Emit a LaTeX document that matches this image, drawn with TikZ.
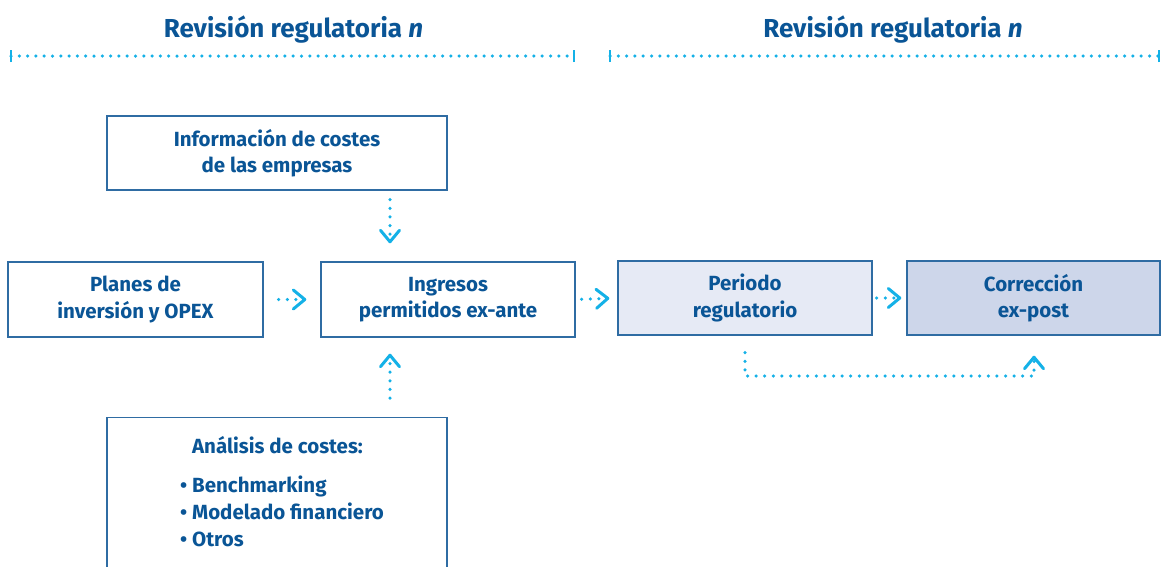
\documentclass[tikz,border=0pt]{standalone}
\usepackage{fontspec}
\setmainfont{Fira Sans}
\usetikzlibrary{arrows.meta}
\definecolor{txt}{HTML}{0A5596}
\definecolor{bord}{HTML}{2F6CA3}
\definecolor{cyanc}{HTML}{14B1E7}
\definecolor{fillA}{HTML}{E6EAF5}
\definecolor{fillB}{HTML}{CDD6EA}
\begin{document}
\begin{tikzpicture}[x=1pt,y=-1pt,
  box/.style={draw=bord, line width=1.4pt, inner sep=0pt, text=txt, align=center,
    font=\bfseries\fontsize{20.5}{26.5}\selectfont},
  lbl/.style={inner sep=0pt, text=txt, font=\bfseries\fontsize{20.5}{26.5}\selectfont},
  ttl/.style={inner sep=0pt, text=txt, font=\bfseries\fontsize{26}{30}\selectfont},
  conn/.style={draw=cyanc, line width=3.5pt, line cap=round, dash pattern=on 0pt off 8.6pt,
    -{Straight Barb[length=11.5pt,width=19pt,line width=3pt,line join=round,line cap=round]}},
  hdr/.style={draw=cyanc, line width=3.5pt, line cap=round, dash pattern=on 0pt off 8.3pt},
  tick/.style={draw=cyanc, line width=2.8pt}
]
\clip (0,0) rectangle (1161,566);
\fill[white] (0,0) rectangle (1161,566);

% headers
\node[ttl, anchor=base] (t1) at (293.5,37) {Revisión regulatoria \textit{n}};
\node[ttl, anchor=base] (t2) at (893,37) {Revisión regulatoria \textit{n}};
\coordinate (h1a) at (11,56); \coordinate (h1b) at (574,56);
\coordinate (h2a) at (610,56); \coordinate (h2b) at (1159,56);
\draw[hdr] (h1a) -- (h1b);
\draw[hdr] (h2a) -- (h2b);
\foreach \c in {h1a,h1b,h2a,h2b}{\draw[tick] ([yshift=-6pt]\c.center) -- ([yshift=6pt]\c.center);}

% boxes
\node[box, minimum width=340pt, minimum height=74pt] (info) at (277,153) {Información de costes\\de las empresas};
\node[box, minimum width=255pt, minimum height=75pt] (planes) at (135.5,299.5) {Planes de\\inversión y OPEX};
\node[box, minimum width=254pt, minimum height=75pt] (ingr) at (448,299.5) {Ingresos\\permitidos ex-ante};
\node[box, fill=fillA, minimum width=254pt, minimum height=74pt] (periodo) at (745,298) {Periodo\\regulatorio};
\node[box, fill=fillB, minimum width=253pt, minimum height=74pt] (correc) at (1033.5,298) {Corrección\\ex-post};
\node[box, minimum width=340pt, minimum height=180pt, anchor=north] (anal) at (277,417) {};
\node[lbl, anchor=base] (a0) at (277.5,453) {Análisis de costes:};
\node[lbl, anchor=base west] (a1) at (180,492) {\textbullet\ Benchmarking};
\node[lbl, anchor=base west] (a2) at (180,519) {\textbullet\ Modelado financiero};
\node[lbl, anchor=base west] (a3) at (180,546) {\textbullet\ Otros};

% connectors
\coordinate (vx) at (390,0);
\draw[conn, shorten <=9pt, shorten >=18pt] (info.south -| vx) -- (ingr.north -| vx);
\draw[conn, shorten <=19pt, shorten >=16pt] (anal.north -| vx) -- (ingr.south -| vx);
\draw[conn, shorten <=15pt, shorten >=14pt] (planes.east) -- (ingr.west);
\draw[conn, shorten <=6pt, shorten >=8pt] (ingr.east) -- (periodo.west);
\draw[conn, shorten <=4pt, shorten >=5pt] (periodo.east) -- (correc.west);
\coordinate (fb1) at (745,376);
\coordinate (fb2) at (1034,376);
\draw[conn, shorten <=17pt, shorten >=20pt] (periodo.south -| fb1) -- (fb1) -- (fb2) -- (correc.south -| fb2);
\end{tikzpicture}
\end{document}
